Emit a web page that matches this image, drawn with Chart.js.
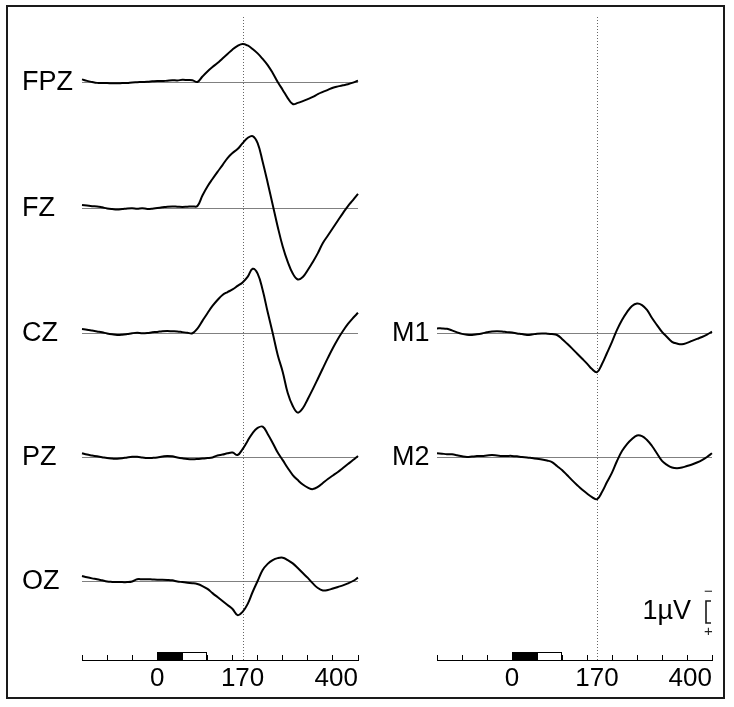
<!DOCTYPE html>
<html>
<head>
<meta charset="utf-8">
<script src="https://cdn.jsdelivr.net/npm/chart.js@4.4.0/dist/chart.umd.min.js"></script>
<style>
  body { margin: 0; background: #fff; }
  #frame {
    position: absolute; left: 6px; top: 5px; width: 719px; height: 694px;
    border: 2px solid #1a1a1a; box-sizing: border-box;
  }
  canvas { position: absolute; top: 0; }
</style>
</head>
<body>
<div id="frame"></div>
<canvas id="leftChart" width="384" height="707" style="left:0"></canvas>
<canvas id="rightChart" width="367" height="707" style="left:367px"></canvas>
<script>
// time points in ms
const times = [-150, -140, -130, -120, -110, -100, -90, -80, -70, -60,
  -50, -40, -30, -20, -10, 0, 10, 20, 30, 40,
  50, 60, 70, 80, 90, 100, 110, 120, 130, 140,
  150, 160, 170, 180, 190, 200, 210, 220, 230, 240,
  250, 260, 270, 280, 290, 300, 310, 320, 330, 340,
  350, 360, 370, 380, 390, 400];

const tickValues = [-150, -100, -50, 0, 50, 100, 150, 170, 200, 250, 300, 350, 400];
const tickLabels = [0, 170, 400];
const markerTime = 170;
const stimBlack = [0, 50];
const stimWhite = [50, 100];
const scaleBarUv = 1;

const leftChannels = ["FPZ", "FZ", "CZ", "PZ", "OZ"];
const rightChannels = ["M1", "M2"];

// amplitudes in µV (negative plotted up)
const fpz = [-0.12, -0.05, 0.00, 0.04, 0.05, 0.05, 0.06, 0.06, 0.05, 0.04,
  0.02, 0.01, 0.00, -0.01, -0.03, -0.05, -0.04, -0.06, -0.08, -0.07,
  -0.10, -0.09, -0.08, 0.00, -0.25, -0.48, -0.68, -0.86, -1.07, -1.27,
  -1.48, -1.64, -1.73, -1.66, -1.50, -1.30, -1.05, -0.77, -0.41, 0.00,
  0.36, 0.73, 1.00, 0.95, 0.87, 0.78, 0.68, 0.55, 0.45, 0.36,
  0.26, 0.20, 0.15, 0.10, 0.03, -0.06];

const fz = [-0.14, -0.11, -0.08, -0.07, -0.03, 0.02, 0.05, 0.07, 0.05, 0.02,
  0.01, 0.03, 0.01, 0.04, 0.03, 0.00, -0.03, -0.06, -0.07, -0.06,
  -0.05, -0.06, -0.07, -0.09, -0.57, -0.98, -1.32, -1.64, -1.95, -2.27,
  -2.50, -2.68, -2.95, -3.18, -3.27, -2.95, -2.10, -1.15, -0.15, 0.85,
  1.75, 2.45, 2.98, 3.25, 3.14, 2.82, 2.45, 2.05, 1.59, 1.25,
  0.91, 0.57, 0.23, -0.09, -0.36, -0.64];

const cz = [-0.18, -0.15, -0.11, -0.07, -0.03, 0.02, 0.06, 0.09, 0.08, 0.05,
  0.01, -0.01, 0.01, 0.00, -0.03, -0.05, -0.08, -0.09, -0.08, -0.07,
  -0.04, -0.01, 0.01, -0.20, -0.55, -0.90, -1.23, -1.50, -1.73, -1.86,
  -1.98, -2.14, -2.30, -2.55, -2.92, -2.70, -1.95, -0.95, 0.00, 1.00,
  1.77, 2.73, 3.32, 3.62, 3.42, 3.00, 2.55, 2.08, 1.60, 1.13,
  0.68, 0.27, -0.09, -0.41, -0.68, -0.92];

const pz = [-0.17, -0.11, -0.07, -0.03, 0.01, 0.05, 0.07, 0.08, 0.06, 0.02,
  -0.01, -0.01, 0.02, 0.05, 0.04, 0.02, -0.02, -0.05, -0.03, 0.02,
  0.06, 0.09, 0.10, 0.09, 0.07, 0.05, 0.02, -0.07, -0.11, -0.17,
  -0.20, -0.09, -0.36, -0.73, -1.09, -1.32, -1.38, -1.05, -0.64, -0.20,
  0.14, 0.50, 0.82, 1.05, 1.25, 1.39, 1.46, 1.36, 1.18, 1.00,
  0.84, 0.68, 0.50, 0.32, 0.14, -0.05];

const oz = [-0.23, -0.17, -0.12, -0.08, -0.03, 0.02, 0.04, 0.05, 0.05, 0.05,
  0.02, -0.08, -0.08, -0.08, -0.07, -0.06, -0.06, -0.05, -0.03, 0.02,
  0.05, 0.08, 0.10, 0.14, 0.23, 0.36, 0.55, 0.73, 0.91, 1.09,
  1.27, 1.55, 1.40, 1.05, 0.50, 0.00, -0.50, -0.78, -0.95, -1.04,
  -1.06, -0.95, -0.80, -0.59, -0.36, -0.14, 0.11, 0.32, 0.43, 0.41,
  0.34, 0.27, 0.20, 0.11, 0.00, -0.15];

const m1 = [-0.21, -0.21, -0.19, -0.12, -0.03, 0.04, 0.08, 0.09, 0.06, 0.02,
  -0.03, -0.07, -0.08, -0.07, -0.04, -0.02, 0.02, 0.05, 0.09, 0.07,
  0.03, 0.02, 0.03, 0.05, 0.09, 0.27, 0.48, 0.70, 0.93, 1.16,
  1.39, 1.64, 1.78, 1.41, 0.91, 0.40, -0.14, -0.59, -0.95, -1.23,
  -1.34, -1.27, -1.05, -0.68, -0.36, -0.05, 0.18, 0.40, 0.48, 0.51,
  0.45, 0.36, 0.27, 0.18, 0.07, -0.06];

const m2 = [-0.17, -0.15, -0.13, -0.12, -0.08, -0.03, 0.00, -0.02, -0.04, -0.05,
  -0.07, -0.09, -0.07, -0.05, -0.05, -0.05, -0.03, 0.00, 0.02, 0.05,
  0.08, 0.11, 0.16, 0.23, 0.41, 0.59, 0.82, 1.05, 1.27, 1.48,
  1.66, 1.82, 1.92, 1.59, 1.14, 0.71, 0.18, -0.27, -0.59, -0.82,
  -0.98, -0.95, -0.77, -0.50, -0.16, 0.18, 0.36, 0.48, 0.51, 0.48,
  0.41, 0.34, 0.25, 0.14, 0.00, -0.17];

// layout (pixels)
const AREA_TOP = 16;
const AREA_BOTTOM = 660;
const PX_PER_UV = 22;
const FONT = '"Liberation Sans", Arial, sans-serif';

const erpDecor = {
  id: "erpDecor",
  beforeDatasetsDraw(chart, args, opts) {
    const { ctx, chartArea } = chart;
    ctx.save();
    ctx.strokeStyle = "#808080";
    ctx.lineWidth = 1;
    opts.channels.forEach((name, i) => {
      const y = Math.round(chart.scales["y" + i].getPixelForValue(0)) + 0.5;
      ctx.beginPath();
      ctx.moveTo(chartArea.left, y);
      ctx.lineTo(chartArea.right, y);
      ctx.stroke();
    });
    const mx = Math.round(chart.scales.x.getPixelForValue(markerTime)) + 0.5;
    ctx.strokeStyle = "#666";
    ctx.setLineDash([1, 2]);
    ctx.beginPath();
    ctx.moveTo(mx, chartArea.top + 1);
    ctx.lineTo(mx, chartArea.bottom);
    ctx.stroke();
    ctx.restore();
  },
  afterDraw(chart, args, opts) {
    const { ctx, chartArea } = chart;
    const x = chart.scales.x;
    ctx.save();
    // channel names
    ctx.fillStyle = "#000";
    ctx.font = "27px " + FONT;
    ctx.textAlign = "left";
    ctx.textBaseline = "middle";
    opts.channels.forEach((name, i) => {
      const y = chart.scales["y" + i].getPixelForValue(0);
      ctx.fillText(name, opts.labelX, y + 1);
    });
    // stimulus bar
    const top = chartArea.bottom - 8;
    const bx0 = Math.round(x.getPixelForValue(stimBlack[0]));
    const bx1 = Math.round(x.getPixelForValue(stimBlack[1]));
    const wx1 = Math.round(x.getPixelForValue(stimWhite[1]));
    ctx.fillStyle = "#000";
    ctx.fillRect(bx0, top, bx1 - bx0, 8);
    ctx.strokeStyle = "#000";
    ctx.lineWidth = 1;
    ctx.strokeRect(bx1 + 0.5, top + 0.5, wx1 - bx1 - 1, 8);
    // amplitude scale bar
    if (opts.scaleBar) {
      const s = chart.scales["y" + (opts.channels.length - 1)];
      const len = Math.abs(s.getPixelForValue(scaleBarUv) - s.getPixelForValue(0));
      const sx = opts.scaleBar.x;
      const sy = opts.scaleBar.y;
      ctx.strokeStyle = "#1a1a1a";
      ctx.lineWidth = 1.6;
      ctx.beginPath();
      ctx.moveTo(sx + 5, sy);
      ctx.lineTo(sx, sy);
      ctx.lineTo(sx, sy + len);
      ctx.lineTo(sx + 5, sy + len);
      ctx.stroke();
      ctx.fillStyle = "#000";
      ctx.font = "27px " + FONT;
      ctx.textAlign = "right";
      ctx.fillText(scaleBarUv + "µV", sx - 15, sy + len / 2);
      ctx.font = "15px " + FONT;
      ctx.textAlign = "center";
      ctx.fillStyle = "#222";
      ctx.fillText("−", sx + 2.5, sy - 9);
      ctx.fillText("+", sx + 2.5, sy + len + 9);
    }
    ctx.restore();
  }
};

function makeChart(canvasId, channels, series, baselines, pad, decor) {
  const H = AREA_BOTTOM - AREA_TOP;
  const scales = {
    x: {
      type: "linear",
      min: times[0],
      max: times[times.length - 1],
      afterBuildTicks(scale) {
        scale.ticks = tickValues.map(v => ({ value: v }));
      },
      afterFit(scale) {
        scale.height = 707 - AREA_BOTTOM;
        scale.paddingLeft = 0;
        scale.paddingRight = 0;
      },
      border: { display: true, color: "#000", width: 1 },
      grid: {
        drawOnChartArea: false,
        drawTicks: true,
        tickLength: -5,
        color: c => (c.tick && c.tick.value === markerTime ? "rgba(0,0,0,0)" : "#000")
      },
      ticks: {
        autoSkip: false,
        maxRotation: 0,
        align: "inner",
        padding: 8,
        color: "#000",
        font: { family: FONT, size: 26 },
        callback: v => (tickLabels.includes(v) ? String(v) : "")
      }
    }
  };
  channels.forEach((name, i) => {
    const min = -(baselines[i] - AREA_TOP) / PX_PER_UV;
    scales["y" + i] = {
      type: "linear",
      display: false,
      reverse: true,
      min: min,
      max: min + H / PX_PER_UV
    };
  });
  return new Chart(document.getElementById(canvasId), {
    type: "line",
    data: {
      datasets: channels.map((name, i) => ({
        label: name,
        data: times.map((t, k) => ({ x: t, y: series[i][k] })),
        yAxisID: "y" + i,
        borderColor: "#000",
        borderWidth: 2,
        pointRadius: 0,
        tension: 0.4,
        clip: false
      }))
    },
    options: {
      responsive: false,
      animation: false,
      devicePixelRatio: 1,
      layout: { padding: { top: AREA_TOP, bottom: 0, left: pad.left, right: pad.right } },
      plugins: {
        legend: { display: false },
        tooltip: { enabled: false },
        erpDecor: decor
      },
      scales: scales
    },
    plugins: [erpDecor]
  });
}

makeChart("leftChart", leftChannels, [fpz, fz, cz, pz, oz],
  [82, 208, 333, 457, 581], { left: 82, right: 26 },
  { channels: leftChannels, labelX: 22 });

makeChart("rightChart", rightChannels, [m1, m2],
  [333, 457], { left: 70, right: 22 },
  { channels: rightChannels, labelX: 25, scaleBar: { x: 339, y: 601 } });
</script>
</body>
</html>
